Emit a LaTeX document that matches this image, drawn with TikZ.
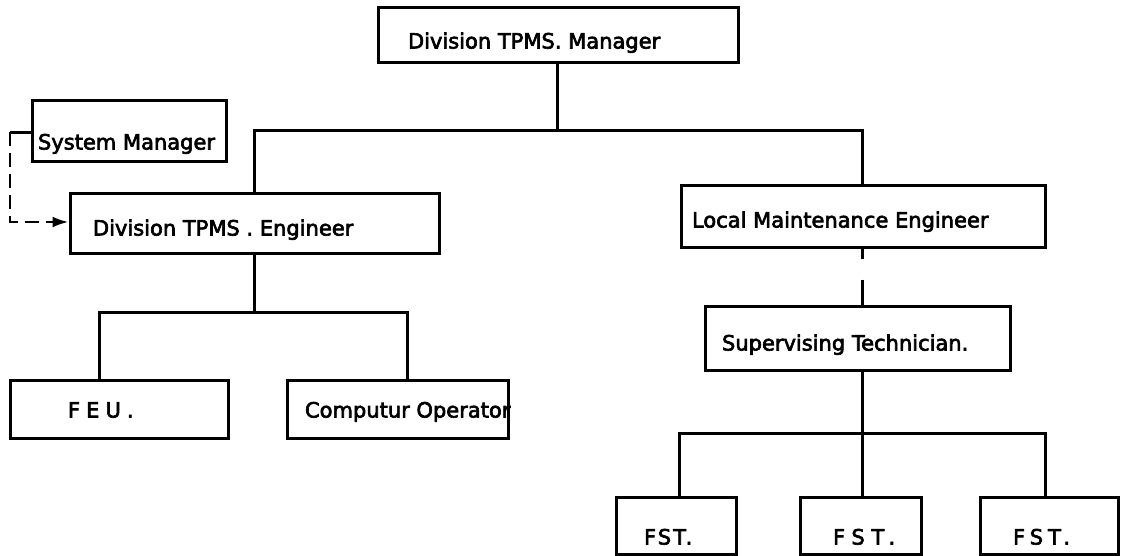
\documentclass[tikz,border=0pt]{standalone}
\usepackage{fontspec}
\setmainfont{DejaVu Sans}
\newfontfamily\orgfont{DejaVu Sans}[FakeBold=3]
\usetikzlibrary{arrows.meta}
\tikzset{
  orgbox/.style={draw, line width=3pt, inner ysep=0pt, font=\orgfont\fontsize{21}{25}\selectfont, text height=#1, text depth=4pt},
  orgbox/.default=20pt,
  link/.style={line width=3pt},
  dlink/.style={line width=2.6pt, dash pattern=on 14pt off 7pt},
}
\begin{document}
\begin{tikzpicture}[x=1pt,y=-1pt]
\useasboundingbox (0,0) rectangle (1124,555);
\fill[white] (0,0) rectangle (1124,555);
\begin{scope}
\clip (0,0) rectangle (1124,555);
% boxes
\node[orgbox=32pt, inner xsep=30pt, minimum height=55pt] (mgr) at (558,34.5) {\makebox[300pt][l]{Division TPMS. Manager}};
\node[orgbox=42pt, inner xsep=6pt, minimum height=61pt] (sys) at (129,130.5) {\makebox[182pt][l]{System Manager}};
\node[orgbox=29pt, inner xsep=23pt, minimum height=60pt] (eng) at (254.5,223) {\makebox[323pt][l]{Division TPMS . Engineer}};
\node[orgbox=27pt, inner xsep=11pt, minimum height=62pt] (lme) at (863,216) {\makebox[342pt][l]{Local Maintenance Engineer}};
\node[orgbox=29pt, inner xsep=17pt, minimum height=64pt] (sup) at (857.5,338) {\makebox[271pt][l]{Supervising Technician.}};
\node[orgbox=21pt, inner xsep=58pt, minimum height=58pt] (feu) at (119,409) {\makebox[102pt][l]{\addfontfeatures{LetterSpace=29}FEU.}};
\node[orgbox=21pt, inner xsep=18pt, minimum height=58pt] (comp) at (397.5,409) {\makebox[185pt][l]{Computur Operator}};
\node[orgbox=42pt, inner xsep=28pt, minimum height=57pt] (fst1) at (676,525.5) {\makebox[64pt][l]{\addfontfeatures{LetterSpace=10}FST.}};
\node[orgbox=42pt, inner xsep=33pt, minimum height=57pt] (fst2) at (860.5,525.5) {\makebox[55pt][l]{\addfontfeatures{LetterSpace=32}FST.}};
\node[orgbox=42pt, inner xsep=33pt, minimum height=57pt] (fst3) at (1049,525.5) {\makebox[72pt][l]{\addfontfeatures{LetterSpace=24}FST.}};
% bus coordinates
\coordinate (b1l) at (254,130);
\coordinate (b1m) at (557,130);
\coordinate (b1r) at (862,130);
\coordinate (b2l) at (679,433);
\coordinate (b2m) at (862,433);
\coordinate (b2r) at (1045,433);
\coordinate (b3l) at (99,312);
\coordinate (b3m) at (254,312);
\coordinate (b3r) at (407,312);
\coordinate (d1) at (10,132);
\coordinate (d2) at (10,222);
% connectors
\draw[link] (mgr.south -| b1m) -- (b1m);
\draw[link] (eng.north -| b1l) |- (b1r) -- (lme.north -| b1r);
\draw[link] (lme.south -| b1r) -- ++(0,10) ++(0,21) -- (sup.north -| b1r);
\draw[link] (sup.south -| b2m) -- (b2m) -- (fst2.north -| b2m);
\draw[link] (fst1.north -| b2l) |- (b2r) -- (fst3.north -| b2r);
\draw[link] (eng.south -| b3m) -- (b3m);
\draw[link] (feu.north -| b3l) |- (b3r) -- (comp.north -| b3r);
\draw[link] (sys.west |- d1) -- (d1);
\draw[dlink, -{Latex[length=16pt,width=11pt]}] (d1) -- (d2) -- (eng.west |- d2);
\end{scope}
\end{tikzpicture}
\end{document}
